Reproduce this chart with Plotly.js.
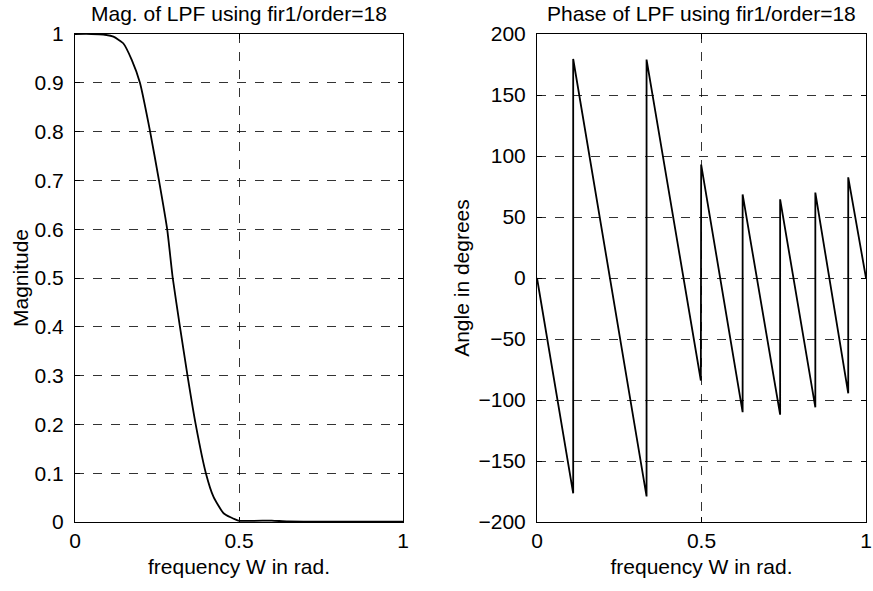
<!DOCTYPE html>
<html><head><meta charset="utf-8">
<script src="https://cdn.plot.ly/plotly-3.0.1.min.js"></script>
<style>html,body{margin:0;padding:0;background:#fff}#plot{width:873px;height:591px}</style>
</head><body><div id="plot"></div>
<script>
// Magnitude response
const magW = [0, 0.05, 0.086, 0.117, 0.147, 0.173, 0.198, 0.229, 0.256, 0.281, 0.298, 0.320, 0.343, 0.368, 0.399, 0.422, 0.453, 0.498, 0.60, 0.65, 1.0];
const magV = [1.0, 1.0, 0.999, 0.9945, 0.981, 0.947, 0.900, 0.800, 0.700, 0.600, 0.500, 0.400, 0.300, 0.200, 0.100, 0.052, 0.018, 0.003, 0.003, 0.001, 0.0005];
// Phase response in degrees
const phW = [0, 0.110, 0.110, 0.333, 0.333, 0.498, 0.499, 0.625, 0.625, 0.739, 0.739, 0.846, 0.846, 0.946, 0.946, 1.0];
const phV = [0, -176.5, 179.5, -179, 179, -84, 93, -110, 68.5, -112, 64.5, -106, 70, -94.5, 82.5, 0];

const titles = ["Mag. of LPF using fir1/order=18", "Phase of LPF using fir1/order=18"];
const xTitle = "frequency W in rad.";
const yTitles = ["Magnitude", "Angle in degrees"];

const font = {family: "Liberation Sans, Arial, sans-serif", size: 21, color: "#000"};

const traces = [
  {x: magW, y: magV, type: "scatter", mode: "lines", line: {color: "#000", width: 1.8, shape: "spline", smoothing: 0.5}, xaxis: "x", yaxis: "y", hoverinfo: "skip"},
  {x: phW, y: phV, type: "scatter", mode: "lines", line: {color: "#000", width: 1.8}, xaxis: "x2", yaxis: "y2", hoverinfo: "skip"}
];

function xax(domain, anchor) {
  return {domain: domain, anchor: anchor, range: [0, 1], tickvals: [0, 0.5, 1], ticktext: ["0", "0.5", "1"],
    showgrid: true, gridcolor: "#000", griddash: "dash", gridwidth: 0.8,
    showline: true, mirror: "ticks", linecolor: "#000", linewidth: 1,
    ticks: "inside", ticklen: 5, tickcolor: "#000", zeroline: false,
    tickfont: font, title: {text: xTitle, font: font, standoff: 8}};
}
function yax(domain, anchor, range, vals, texts, titleText, standoff) {
  return {domain: domain, anchor: anchor, range: range, tickvals: vals, ticktext: texts,
    showgrid: true, gridcolor: "#000", griddash: "dash", gridwidth: 0.8,
    showline: true, mirror: "ticks", linecolor: "#000", linewidth: 1,
    ticks: "inside", ticklen: 5, tickcolor: "#000", zeroline: false, ticklabelstandoff: 6,
    tickfont: font, title: {text: titleText, font: font, standoff: standoff}};
}
const magTicks = [0,0.1,0.2,0.3,0.4,0.5,0.6,0.7,0.8,0.9,1];
const magTickText = ["0","0.1","0.2","0.3","0.4","0.5","0.6","0.7","0.8","0.9","1"];
const phTicks = [-200,-150,-100,-50,0,50,100,150,200];
const phTickText = ["\u2212200","\u2212150","\u2212100","\u221250","0","50","100","150","200"];

const yd = [1 - 522/591, 1 - 34/591];
const layout = {
  width: 873, height: 591, margin: {l: 0, r: 0, t: 0, b: 0},
  paper_bgcolor: "#fff", plot_bgcolor: "#fff", showlegend: false, font: font,
  xaxis: xax([75/873, 403/873], "y"),
  yaxis: yax(yd, "x", [0, 1], magTicks, magTickText, yTitles[0], 0),
  xaxis2: xax([537/873, 866/873], "y2"),
  yaxis2: yax(yd, "x2", [-200, 200], phTicks, phTickText, yTitles[1], 3),
  annotations: [
    {text: titles[0], xref: "paper", yref: "paper", x: 239/873, y: 1 - 14/591, xanchor: "center", yanchor: "middle", showarrow: false, font: font},
    {text: titles[1], xref: "paper", yref: "paper", x: 701/873, y: 1 - 14/591, xanchor: "center", yanchor: "middle", showarrow: false, font: font}
  ]
};
Plotly.newPlot("plot", traces, layout, {displayModeBar: false, staticPlot: true});
</script></body></html>
